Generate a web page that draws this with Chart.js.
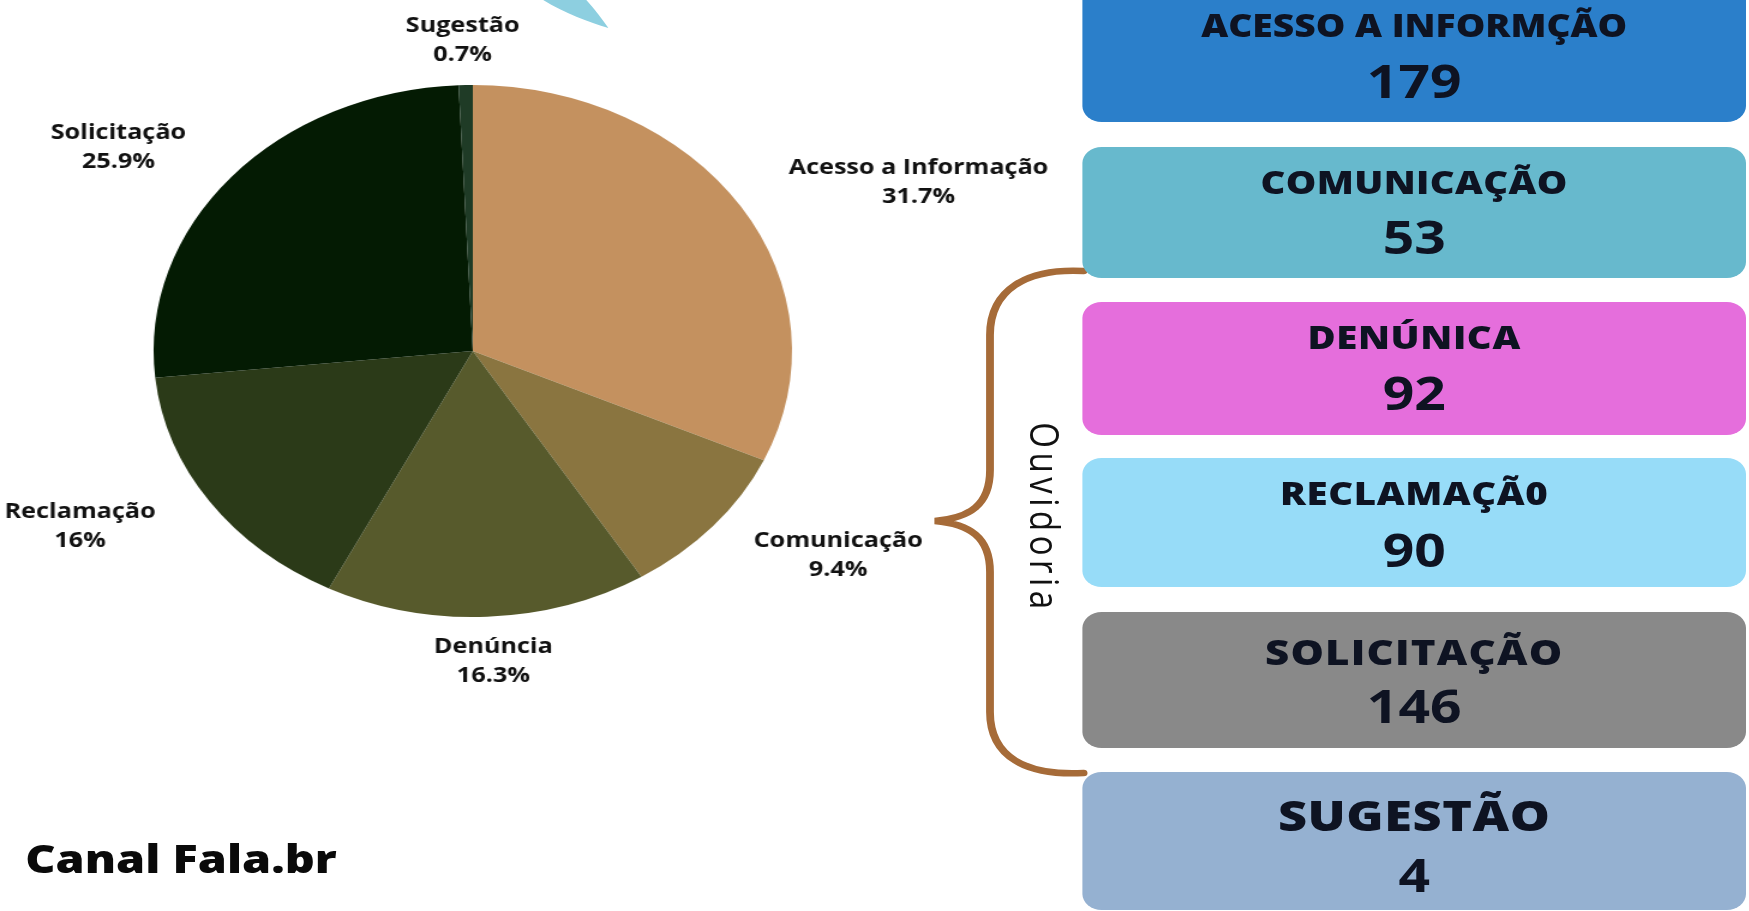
<!DOCTYPE html>
<html><head><meta charset="utf-8">
<script src="https://cdn.jsdelivr.net/npm/chart.js@4.4.0/dist/chart.umd.min.js"></script>
<style>
html,body{margin:0;padding:0;background:#fff;overflow:hidden;width:1749px;height:911px;}
#stage{position:absolute;left:0;top:0;width:1457.5px;height:911px;transform:scaleX(1.2);transform-origin:0 0;font-family:'Open Sans',sans-serif;overflow:hidden;}
#wrap{position:absolute;left:0;top:0;width:1457px;height:911px;}
#deco{position:absolute;left:0;top:0;}
.box{position:absolute;left:902px;width:553px;border-radius:16px;}
.t{position:absolute;left:0;right:0;text-align:center;font-weight:800;color:#0e1322;white-space:nowrap;}
.n{font-weight:700;}
#canal{position:absolute;left:21px;font-weight:800;color:#0a0a0a;white-space:nowrap;}
#ouv{position:absolute;left:871px;top:518px;transform:translate(-50%,-50%) rotate(90deg);font-weight:500;color:#111;white-space:nowrap;}
</style></head><body>
<div id="stage">
  <div id="wrap"><canvas id="pie"></canvas></div>
  <svg id="deco" width="1457.5" height="911" viewBox="0 0 1457.5 911">
    <path d="M450 -2 L487 -2 C495 8 501 18 507 28 C490 22 468 12 450 -2 Z" fill="#8dcfe0"/>
    <path d="M903 271 C855 268 825 290 825 335 L825 470 C825 505 808 518 779 521 C808 524 825 537 825 572 L825 712 C825 757 855 776 903 773" fill="none" stroke="#a66b38" stroke-width="6.5" stroke-linecap="round"/>
  </svg>
  <div id="boxes"></div>
  <div id="canal">Canal Fala.br</div>
  <div id="ouv">Ouvidoria</div>
</div>
<script>
// ---- data ----
const categories = ['Acesso a Informação', 'Comunicação', 'Denúncia', 'Reclamação', 'Solicitação', 'Sugestão'];
const values = [179, 53, 92, 90, 146, 4];
const boxTitles = ['ACESSO A INFORMÇÃO', 'COMUNICAÇÃO', 'DENÚNICA', 'RECLAMAÇÃ0', 'SOLICITAÇÃO', 'SUGESTÃO'];
const sliceColors = ['#c4915f', '#8a7540', '#575a2c', '#2b3a18', '#041b03', '#1f3b26'];
const boxColors = ['#2b7fca', '#67b9cd', '#e56edc', '#97dcf8', '#898989', '#95b1d1'];

// ---- layout (stage px) ----
const boxTop = [-30, 147, 302, 458, 612, 772];
const boxBottom = [122, 278, 435, 587, 748, 910];
const titleY = [26, 183, 338, 494, 653, 816];
const numY = [81, 237, 393, 550, 706, 875];
const titleSize = [31, 32, 32, 32, 35, 42];
const titleSpacing = [0, 0.3, 0.5, 0.5, 1, 0.5];
const numSize = 46;

const boxesEl = document.getElementById('boxes');
boxTitles.forEach((t, i) => {
  const b = document.createElement('div');
  b.className = 'box';
  b.style.top = boxTop[i] + 'px';
  b.style.height = (boxBottom[i] - boxTop[i]) + 'px';
  b.style.background = boxColors[i];
  const tt = document.createElement('div');
  tt.className = 't';
  tt.textContent = t;
  tt.style.fontSize = titleSize[i] + 'px';
  tt.style.lineHeight = titleSize[i] + 'px';
  tt.style.letterSpacing = titleSpacing[i] + 'px';
  tt.style.top = (titleY[i] - 0.531 * titleSize[i] - boxTop[i]) + 'px';
  b.appendChild(tt);
  const nn = document.createElement('div');
  nn.className = 't n';
  nn.textContent = String(values[i]);
  nn.style.fontSize = numSize + 'px';
  nn.style.lineHeight = numSize + 'px';
  nn.style.top = (numY[i] - 0.531 * numSize - boxTop[i]) + 'px';
  b.appendChild(nn);
  boxesEl.appendChild(b);
});

const canal = document.getElementById('canal');
canal.style.fontSize = '39px'; canal.style.lineHeight = '39px';
canal.style.top = (858.5 - 0.531 * 39) + 'px';
const ouv = document.getElementById('ouv');
ouv.style.fontSize = '33px'; ouv.style.letterSpacing = '4.5px';

function fmtPct(p) {
  const s = p.toFixed(1);
  return (s.endsWith('.0') ? s.slice(0, -2) : s) + '%';
}

const LINE_H = 29, PAD_X = 68, PAD_Y = 16;
const outLabels = {
  id: 'outLabels',
  afterDatasetsDraw(chart) {
    const ctx = chart.ctx;
    const meta = chart.getDatasetMeta(0);
    const total = values.reduce((a, b) => a + b, 0);
    ctx.save();
    ctx.font = "700 21px 'Open Sans'";
    ctx.fillStyle = '#111';
    ctx.textAlign = 'center';
    ctx.textBaseline = 'middle';
    meta.data.forEach((arc, i) => {
      const p = arc.getProps(['x', 'y', 'startAngle', 'endAngle', 'outerRadius'], true);
      const mid = (p.startAngle + p.endAngle) / 2;
      const dx = Math.cos(mid), dy = Math.sin(mid);
      const lines = [categories[i], fmtPct(values[i] / total * 100)];
      const hw = Math.max(...lines.map(l => ctx.measureText(l).width)) / 2;
      const cx = p.x + dx * (p.outerRadius + PAD_X + hw);
      const cy = p.y + dy * (p.outerRadius + PAD_Y + LINE_H);
      ctx.fillText(lines[0], cx, cy - LINE_H / 2);
      ctx.fillText(lines[1], cx, cy + LINE_H / 2);
    });
    ctx.restore();
  }
};

new Chart(document.getElementById('pie'), {
  type: 'pie',
  data: {
    labels: categories,
    datasets: [{
      data: values,
      backgroundColor: sliceColors,
      borderWidth: 0,
      hoverOffset: 0
    }]
  },
  options: {
    responsive: true,
    maintainAspectRatio: false,
    animation: false,
    layout: { padding: { left: 128, right: 797, top: 85, bottom: 294 } },
    plugins: { legend: { display: false }, tooltip: { enabled: false } }
  },
  plugins: [outLabels]
});
</script>
</body></html>
